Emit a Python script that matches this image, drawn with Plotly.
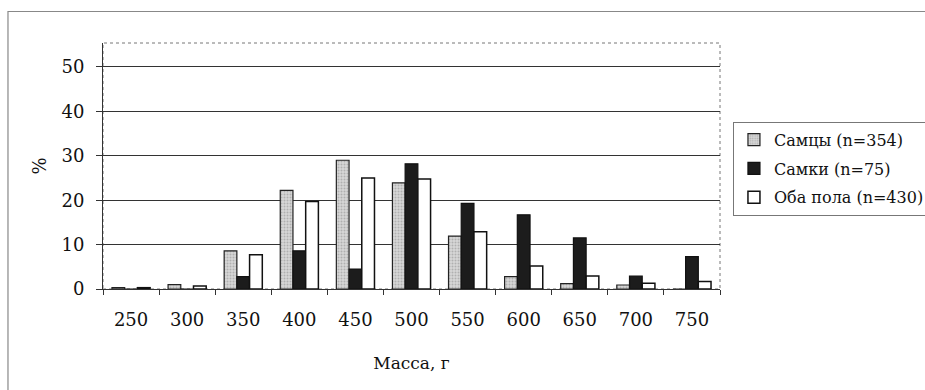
import plotly.graph_objects as go

# Body-mass classes (g) and share of animals in each class (%)
mass_classes = ["250", "300", "350", "400", "450", "500", "550", "600", "650", "700", "750"]
males_pct = [0.3, 1.0, 8.6, 22.2, 29.0, 23.9, 11.9, 2.8, 1.2, 0.9, 0.0]
females_pct = [0.0, 0.0, 2.8, 8.6, 4.5, 28.2, 19.3, 16.7, 11.5, 2.9, 7.3]
both_pct = [0.3, 0.7, 7.7, 19.7, 25.0, 24.8, 12.9, 5.2, 2.9, 1.3, 1.7]

series_names = ["Самцы (n=354)", "Самки (n=75)", "Оба пола (n=430)"]
y_ticks = [0, 10, 20, 30, 40, 50]

FONT = "DejaVu Serif"

fig = go.Figure()
fig.add_trace(go.Bar(
    x=mass_classes, y=males_pct, name=series_names[0], legendgroup="m",
    marker=dict(color="#cfcfcf", line=dict(color="#222", width=1.2),
                pattern=dict(shape=".", fgcolor="#8a8a8a", bgcolor="#d6d6d6",
                             size=3, solidity=0.35)),
))
fig.add_trace(go.Bar(
    x=mass_classes, y=females_pct, name=series_names[1], legendgroup="f",
    marker=dict(color="#1c1c1c", line=dict(color="#111", width=1.2)),
))
fig.add_trace(go.Bar(
    x=mass_classes, y=both_pct, name=series_names[2], legendgroup="b",
    marker=dict(color="#ffffff", line=dict(color="#111", width=1.5)),
))

# plot-area frame (dotted top/right) and outer chart border
fig.add_shape(type="rect", xref="paper", yref="paper", x0=0, x1=1, y0=0, y1=1,
              line=dict(color="#777", width=1, dash="dot"), layer="below")
fig.add_shape(type="rect", xref="paper", yref="paper",
              x0=-0.154, x1=1.36, y0=-0.45, y1=1.128,
              line=dict(color="#888", width=1.2))

fig.update_layout(
    width=925, height=390,
    margin=dict(l=103, r=205, t=43, b=101, autoexpand=False),
    paper_bgcolor="white", plot_bgcolor="white",
    barmode="group", bargap=0.32, bargroupgap=0.0,
    font=dict(family=FONT, size=18, color="#111"),
    showlegend=True,
    legend=dict(
        x=1.021, y=0.68, xanchor="left", yanchor="top",
        bordercolor="#777", borderwidth=1, bgcolor="white",
        font=dict(family=FONT, size=16, color="#111"),
        tracegroupgap=5, itemwidth=30,
    ),
    xaxis=dict(
        type="category", tickson="boundaries", ticks="outside", ticklen=5,
        tickcolor="#333", showline=True, linecolor="#333", linewidth=1,
        showgrid=False, ticklabelstandoff=14,
        title=dict(text="Масса, г", standoff=28, font=dict(family=FONT, size=17)),
    ),
    yaxis=dict(
        range=[0, 55.4], tickvals=y_ticks, ticks="outside", ticklen=6,
        tickcolor="#333", showline=True, linecolor="#333", linewidth=1,
        showgrid=True, gridcolor="#333", gridwidth=1, zeroline=False,
        ticklabelstandoff=8,
        title=dict(text="%", standoff=10, font=dict(family=FONT, size=18)),
    ),
)

fig.write_html("out.html")
